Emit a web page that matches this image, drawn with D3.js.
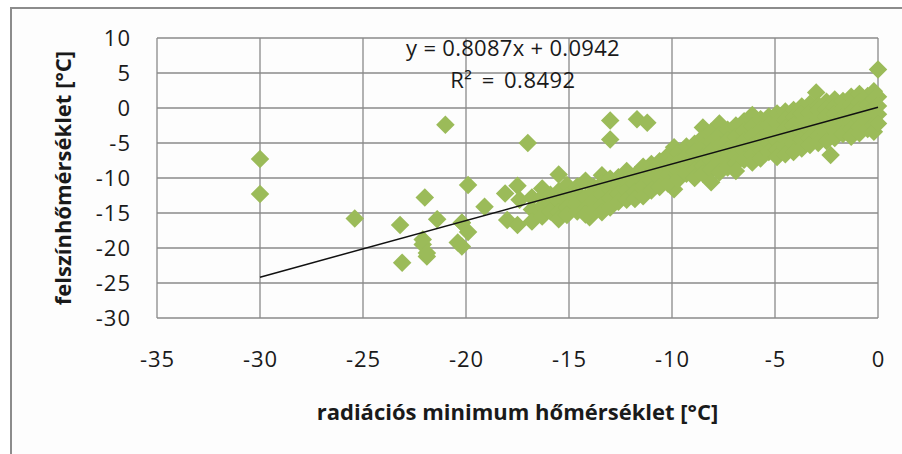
<!DOCTYPE html>
<html>
<head>
<meta charset="utf-8">
<script src="https://cdn.jsdelivr.net/npm/d3@7"></script>
<style>
  html, body { margin: 0; padding: 0; background: #ffffff; }
  svg { display: block; }
  text { font-family: "Open Sans", "Noto Sans", sans-serif; fill: #1a1a1a; }
</style>
</head>
<body>
<svg id="chart" width="902" height="454"></svg>
<script>
// Radiation minimum temperature (x) vs. surface temperature (y), °C
const radMin = [
  -30.0, -30.0, -25.4, -23.2, -23.1, -22.0, -22.1, -21.9, -21.4, -21.0,
  -22.1, -21.9, -20.4, -20.2, -19.9, -20.2, -19.9, -19.1, -18.1, -17.5,
  -17.4, -17.0, -18.0, -17.5, -16.3, -15.8, -15.3, -20.2, -13.0, -13.0,
  -11.7, -11.2, -9.9, -9.9, -14.0,
  -16.8, -16.8, -16.8,
  -16.3, -16.3, -16.3, -16.3,
  -15.9, -15.9, -15.9,
  -15.5, -15.5, -15.5, -15.5, -15.5,
  -15.1, -15.1, -15.1, -15.1,
  -14.6, -14.6, -14.6, -14.6,
  -14.2, -14.2, -14.2, -14.2,
  -13.8, -13.8, -13.8, -13.8,
  -13.4, -13.4, -13.4, -13.4, -13.4,
  -13.0, -13.0, -13.0, -13.0,
  -12.6, -12.6, -12.6, -12.6,
  -12.2, -12.2, -12.2, -12.2,
  -11.8, -11.8, -11.8, -11.8,
  -11.4, -11.4, -11.4, -11.4,
  -11.0, -11.0, -11.0, -11.0,
  -10.6, -10.6, -10.6, -10.6,
  -10.2, -10.2, -10.2, -10.2,
  -9.7, -9.7, -9.7, -9.7,
  -9.3, -9.3, -9.3, -9.3,
  -8.9, -8.9, -8.9, -8.9, -8.9,
  -8.5, -8.5, -8.5, -8.5, -8.5, -8.5,
  -8.1, -8.1, -8.1, -8.1, -8.1, -8.1,
  -7.7, -7.7, -7.7, -7.7, -7.7, -7.7,
  -7.3, -7.3, -7.3, -7.3, -7.3,
  -6.9, -6.9, -6.9, -6.9, -6.9, -6.9,
  -6.5, -6.5, -6.5, -6.5, -6.5,
  -6.1, -6.1, -6.1, -6.1, -6.1, -6.1,
  -5.7, -5.7, -5.7, -5.7, -5.7,
  -5.3, -5.3, -5.3, -5.3, -5.3,
  -4.9, -4.9, -4.9, -4.9, -4.9, -4.9,
  -4.5, -4.5, -4.5, -4.5, -4.5, -4.5,
  -4.1, -4.1, -4.1, -4.1, -4.1, -4.1,
  -3.7, -3.7, -3.7, -3.7, -3.7, -3.7,
  -3.3, -3.3, -3.3, -3.3, -3.3, -3.3,
  -3.0,
  -2.9, -2.9, -2.9, -2.9, -2.9, -2.9,
  -2.5, -2.5, -2.5, -2.5, -2.5, -2.5,
  -2.3,
  -2.1, -2.1, -2.1, -2.1, -2.1, -2.1,
  -1.7, -1.7, -1.7, -1.7, -1.7,
  -1.3, -1.3, -1.3, -1.3, -1.3, -1.3,
  -0.9, -0.9, -0.9, -0.9, -0.9, -0.9,
  -0.5, -0.5, -0.5, -0.5, -0.5,
  -0.2, -0.2, -0.2, -0.2, -0.2, -0.2,
  0.0, 0.0, 0.0, 0.0, 0.0
];
const surfTemp = [
  -7.3, -12.3, -15.8, -16.7, -22.1, -12.8, -19.5, -21.2, -15.9, -2.4,
  -18.8, -20.7, -19.2, -19.8, -17.7, -16.4, -11.0, -14.1, -12.2, -11.1,
  -13.1, -5.0, -16.0, -16.7, -15.0, -14.5, -14.1, -16.4, -1.8, -4.5,
  -1.6, -2.1, -5.6, -11.6, -15.6,
  -12.8, -14.5, -16.2,
  -11.5, -12.7, -14.0, -15.5,
  -12.4, -13.6, -14.8,
  -9.5, -11.9, -13.3, -14.9, -15.9,
  -11.0, -12.6, -14.2, -15.3,
  -11.2, -12.1, -13.5, -14.8,
  -10.4, -12.8, -14.4, -15.2,
  -11.3, -12.0, -13.3, -14.7,
  -9.6, -10.8, -12.4, -13.9, -14.9,
  -10.1, -11.6, -12.9, -14.2,
  -9.9, -11.0, -12.3, -13.4,
  -9.0, -10.5, -11.8, -13.1,
  -9.6, -10.9, -12.0, -13.0,
  -8.4, -9.7, -11.1, -12.6,
  -8.0, -9.2, -10.4, -11.8,
  -7.6, -8.9, -10.1, -11.3,
  -6.8, -8.3, -9.5, -10.8,
  -6.4, -7.7, -9.0, -10.2,
  -5.5, -6.9, -8.2, -9.4,
  -5.1, -6.3, -7.6, -8.9, -10.0,
  -2.8, -4.2, -5.5, -7.0, -8.3, -9.4,
  -3.4, -4.9, -6.2, -7.5, -8.8, -10.6,
  -2.2, -3.9, -5.3, -6.7, -8.0, -9.2,
  -3.1, -4.6, -6.0, -7.2, -8.5,
  -2.5, -4.1, -5.5, -6.8, -7.9, -9.0,
  -1.9, -3.3, -4.7, -6.1, -7.4,
  -1.0, -2.6, -4.0, -5.4, -6.7, -7.8,
  -1.6, -3.1, -4.5, -5.9, -7.2,
  -1.2, -2.4, -3.7, -5.0, -6.3,
  -0.8, -2.1, -3.4, -4.7, -6.0, -7.0,
  -0.5, -1.6, -2.9, -4.2, -5.5, -6.6,
  -0.3, -1.3, -2.5, -3.8, -5.1, -6.3,
  0.2, -0.9, -2.2, -3.4, -4.6, -5.8,
  0.6, -0.7, -1.9, -3.1, -4.3, -5.3,
  2.2,
  0.4, -0.4, -1.5, -2.7, -3.9, -5.0,
  0.9, -0.2, -1.2, -2.4, -3.6, -4.7,
  -6.7,
  1.2, 0.1, -0.9, -2.0, -3.2, -4.3,
  1.0, -0.1, -1.3, -2.6, -3.7,
  1.6, 0.5, -0.6, -1.8, -3.0, -4.1,
  2.0, 0.8, -0.3, -1.5, -2.7, -3.6,
  1.7, 0.4, -0.8, -2.0, -3.0,
  2.4, 1.3, 0.0, -1.2, -2.4, -3.4,
  5.5, 1.6, 0.3, -0.9, -2.2
];

// Linear trendline shown on the chart
const slope = 0.8087;
const intercept = 0.0942;
const rSquared = 0.8492;
const trendX = [-30, 0];

const xTicks = [-35, -30, -25, -20, -15, -10, -5, 0];
const yTicks = [10, 5, 0, -5, -10, -15, -20, -25, -30];
const xTitle = "radiációs minimum hőmérséklet [°C]";
const yTitle = "felszínhőmérséklet [°C]";

const svg = d3.select("#chart");
const plot = { left: 157, right: 878, top: 38, bottom: 318 };

const x = d3.scaleLinear().domain([-35, 0]).range([plot.left, plot.right]);
const y = d3.scaleLinear().domain([-30, 10]).range([plot.bottom, plot.top]);

const gridColor = "#8a8a8a";
// plain hyphen-minus for negative tick values
const tickFmt = d => String(d);

// outer chart frame
svg.append("rect")
  .attr("x", 11).attr("y", 8)
  .attr("width", 960).attr("height", 500)
  .attr("fill", "#fdfdfd")
  .attr("stroke", "#8c8c8c").attr("stroke-width", 2);

// gridlines
const grid = svg.append("g");
grid.selectAll("line.h").data(yTicks).join("line")
  .attr("x1", plot.left).attr("x2", plot.right)
  .attr("y1", d => y(d)).attr("y2", d => y(d))
  .attr("stroke", gridColor).attr("stroke-width", 1.3);
grid.selectAll("line.v").data(xTicks).join("line")
  .attr("y1", plot.top).attr("y2", plot.bottom)
  .attr("x1", d => x(d)).attr("x2", d => x(d))
  .attr("stroke", gridColor).attr("stroke-width", 1.3);

// axes (labels only, lines come from the grid)
const yAxis = d3.axisLeft(y).tickValues(yTicks).tickSize(0).tickPadding(26)
  .tickFormat(tickFmt);
const gy = svg.append("g").attr("transform", `translate(${plot.left},0)`).call(yAxis);
gy.select(".domain").remove();
gy.selectAll("text").attr("font-size", 22).attr("fill", "#1a1a1a")
  .attr("letter-spacing", 1)
  .style("font-family", "'Open Sans', sans-serif");

const xAxis = d3.axisBottom(x).tickValues(xTicks).tickSize(0).tickPadding(33)
  .tickFormat(tickFmt);
const gx = svg.append("g").attr("transform", `translate(0,${plot.bottom})`).call(xAxis);
gx.select(".domain").remove();
gx.selectAll("text").attr("font-size", 22).attr("fill", "#1a1a1a")
  .attr("letter-spacing", 1)
  .style("font-family", "'Open Sans', sans-serif");

// data points: rotated squares (diamonds)
const pts = radMin.map((v, i) => [v, surfTemp[i]]);
const diamond = d3.symbol().type(d3.symbolSquare).size(172);
svg.append("g").selectAll("path").data(pts).join("path")
  .attr("d", diamond)
  .attr("transform", d => `translate(${x(d[0])},${y(d[1])}) rotate(45)`)
  .attr("fill", "#9bbb59");

// trendline
svg.append("line")
  .attr("x1", x(trendX[0])).attr("y1", y(slope * trendX[0] + intercept))
  .attr("x2", x(trendX[1])).attr("y2", y(slope * trendX[1] + intercept))
  .attr("stroke", "#111").attr("stroke-width", 1.5);

// regression label
svg.append("text")
  .attr("x", 513).attr("y", 56).attr("text-anchor", "middle")
  .attr("font-size", 22).attr("letter-spacing", 0.3)
  .text(`y = ${slope}x + ${intercept}`);
svg.append("text")
  .attr("x", 513).attr("y", 88).attr("text-anchor", "middle")
  .attr("font-size", 22).attr("word-spacing", 3).attr("letter-spacing", 0.5)
  .text(`R² = ${rSquared}`);

// axis titles
svg.append("text")
  .attr("x", (plot.left + plot.right) / 2).attr("y", 420)
  .attr("text-anchor", "middle").attr("font-size", 22).attr("font-weight", "bold")
  .text(xTitle);
svg.append("text")
  .attr("transform", `translate(71,${(plot.top + plot.bottom) / 2}) rotate(-90)`)
  .attr("text-anchor", "middle").attr("font-size", 22).attr("font-weight", "bold")
  .text(yTitle);
</script>
</body>
</html>
